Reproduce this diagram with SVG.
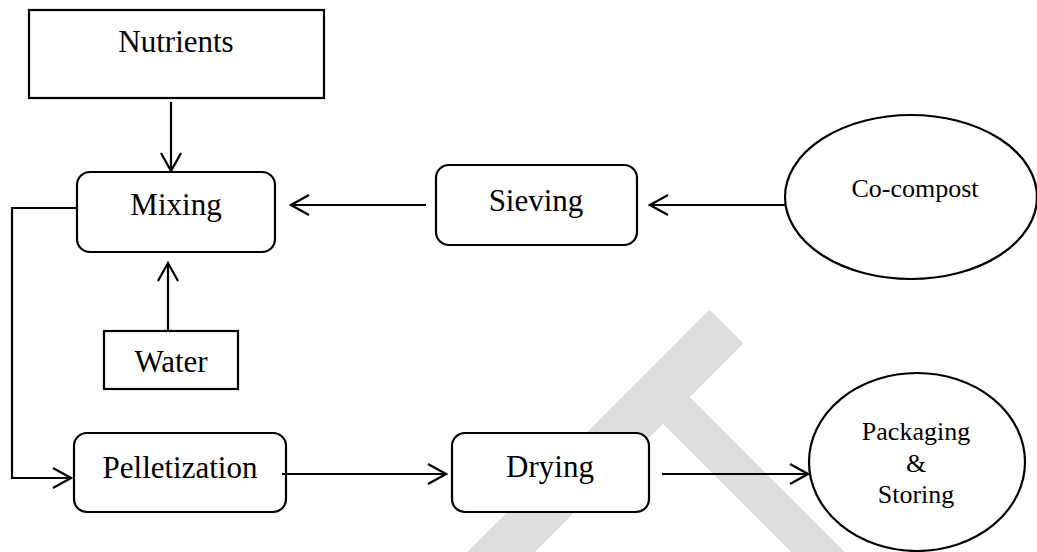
<svg xmlns="http://www.w3.org/2000/svg" width="1037" height="552" viewBox="0 0 1037 552">
  <defs>
    <marker id="arr" viewBox="-19 -11 21 22" refX="0" refY="0" markerWidth="21" markerHeight="22" markerUnits="userSpaceOnUse" orient="auto">
      <path d="M-18,-10 L0,0 L-18,10" fill="none" stroke="#000" stroke-width="2.2" stroke-linejoin="miter"/>
    </marker>
    <style>
      .box { fill: #fff; stroke: #000; stroke-width: 2.2; }
      .lbl { font-family: "Liberation Serif", "Times New Roman", serif; font-size: 31px; fill: #000; text-anchor: middle; }
      .sm { font-family: "Liberation Serif", "Times New Roman", serif; font-size: 26px; fill: #000; text-anchor: middle; }
      .con { fill: none; stroke: #000; stroke-width: 2.2; }
    </style>
  </defs>
  <rect width="1037" height="552" fill="#fff"/>
  <g id="watermark">
    <polygon points="709.5,312.5 740.5,343.5 687,397 890,600 842,600 663,421 484,600 422,600" fill="#dedede" stroke="#dedede" stroke-width="4" stroke-linejoin="round"/>
  </g>
  <g id="nutrients">
    <rect class="box" x="29" y="10" width="295" height="88"/>
    <text class="lbl" x="176" y="52">Nutrients</text>
  </g>
  <g id="mixing">
    <rect class="box" x="77" y="172" width="198" height="80" rx="13"/>
    <text class="lbl" x="176" y="215">Mixing</text>
  </g>
  <g id="sieving">
    <rect class="box" x="436" y="165" width="201" height="80" rx="13"/>
    <text class="lbl" x="536" y="211">Sieving</text>
  </g>
  <g id="cocompost">
    <ellipse class="box" cx="911" cy="197" rx="126" ry="82"/>
    <text class="sm" x="915" y="197">Co-compost</text>
  </g>
  <g id="water">
    <rect class="box" x="104" y="331" width="134" height="58"/>
    <text class="lbl" x="171" y="372">Water</text>
  </g>
  <g id="pelletization">
    <rect class="box" x="74" y="433" width="212" height="79" rx="13"/>
    <text class="lbl" x="180" y="478">Pelletization</text>
  </g>
  <g id="drying">
    <rect class="box" x="452" y="433" width="197" height="79" rx="13"/>
    <text class="lbl" x="550" y="477">Drying</text>
  </g>
  <g id="packaging">
    <ellipse class="box" cx="917" cy="462" rx="108" ry="89"/>
    <text class="sm" x="916" y="440">Packaging</text>
    <text class="sm" x="916" y="472">&amp;</text>
    <text class="sm" x="916" y="503">Storing</text>
  </g>
  <g id="connectors">
    <line class="con" x1="171" y1="102" x2="171" y2="171" marker-end="url(#arr)"/>
    <line class="con" x1="168" y1="331" x2="168" y2="263" marker-end="url(#arr)"/>
    <line class="con" x1="426" y1="205" x2="291" y2="205" marker-end="url(#arr)"/>
    <line class="con" x1="785" y1="205" x2="650" y2="205" marker-end="url(#arr)"/>
    <path class="con" d="M77,208 H12 V478 H71" marker-end="url(#arr)"/>
    <line class="con" x1="282" y1="474" x2="446" y2="474" marker-end="url(#arr)"/>
    <line class="con" x1="662" y1="474" x2="808" y2="474" marker-end="url(#arr)"/>
  </g>
</svg>
